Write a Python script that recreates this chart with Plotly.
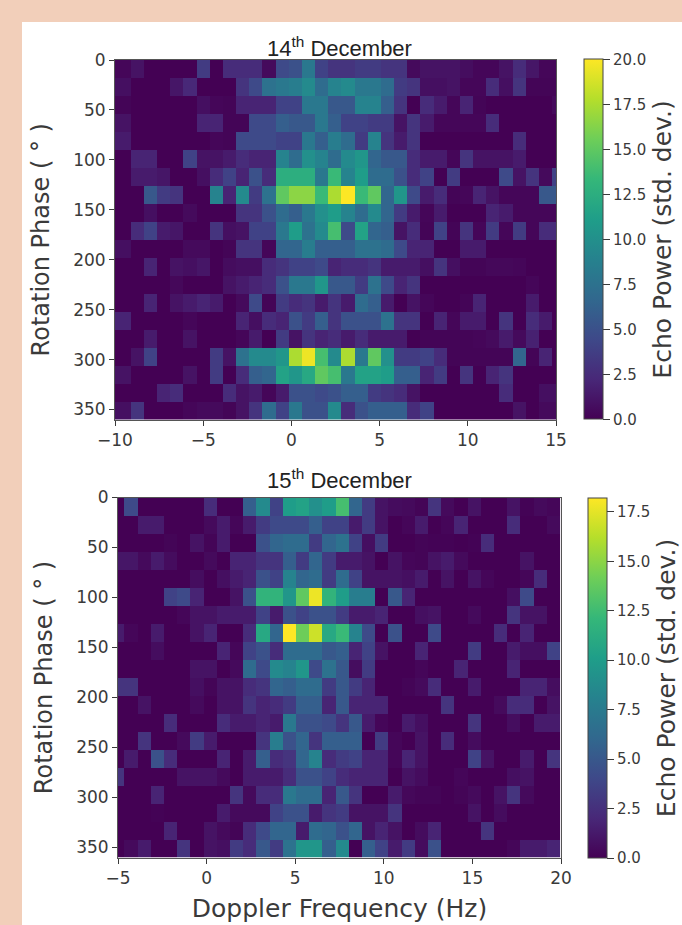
import plotly.graph_objects as go

W, H = 682, 925

# Echo power per Doppler bin (columns) and phase bin (rows)
dec14_power = [
 [0.3,0.3,1,0,0,0,0,3.5,0,2.5,2.5,2.5,0.5,4.5,5,8,4,3,3,3.5,3.5,3,3,0.5,1,1,1,0.7,0.3,0.3,1,2.5,1.2,0.3,0.3],
 [0.8,0.8,0,0,0,1.2,2.2,0,0,0,3,4.5,7.5,8,8.5,9.5,7,9,9.5,8,8,7,3.5,3,0.8,0.8,1,0.3,0.3,2.5,0.8,3,0.2,0.2,0.2],
 [0.2,0.2,0,0,0,0,0,0.8,0.3,0.2,2,2,2,4,4,8,8,5.5,5.5,9,9,6,3,0,2.5,1.5,0.3,2,0.2,0,0,0,0,0,0.5],
 [1,1,0,0,0,0,0,2,2,0.2,0.2,4.5,4.5,6,5.5,5.5,8,6,4,4,3.5,3.5,1,3,1.5,0.3,0.3,0.3,0.3,2.5,0,0,0,0,0],
 [1.5,1.5,0,0,0,0,0,0,0.3,0.2,4.5,4.5,4.5,4,4,8,6,8.5,7,3.5,9,3,1.5,3,0,0,0,0,0,0,0,2.5,0,0,0],
 [0,0,2,2,0,0,4,1,1,1.5,2.5,2,2,9,7,10,9,7,9.5,10.5,6.5,5.5,5.5,2.5,1.5,1.5,0.3,3,1,1,1,1.5,0,0,0],
 [0,0,1.5,1.5,1.2,0,0,0.8,2.5,4,2,5,2.5,12.5,12.5,12.5,8,13.5,9,11,7,7,5,2.5,4,0,3.5,0,0,0,4.5,1,3,0.5,4],
 [0,0,0,5.5,3.5,3,0,0,9,2,9.5,3.5,7.5,15,16.5,16.5,13.5,17.5,20,13.5,15,6.5,10.5,4.5,1.5,2.5,0.2,0.3,2,1,0.3,0.3,0.3,5.5,5.5],
 [0,0,0,0.8,0,0,0.5,0,0,0,3,3,5,7,6,8,10,11,9,7,9.5,6.5,3.5,1.5,0.3,1.5,0,0,0,2,1.5,0.3,0.3,0.3,0.3],
 [0,0,2.5,4,1.5,1.2,0,0,3,0.8,1,4,4,8,11,7.5,9.5,14,4.5,11.5,6.5,6,1,2.5,0.2,4,0.2,3,0.3,3.5,0.3,3.5,0.3,2.5,2.5],
 [0.8,0.8,0,0,0,0,0.5,0.5,0,0.2,3,3,0.3,6.5,6.5,8.5,6,6,6,7.5,7.5,7,4.5,2,2,0,0,1.5,1.5,0,0,0,0,0,0],
 [0,0,0,2,0,1,0.8,1.2,0,0.6,0.8,0.8,2.5,3,4,4,4.5,2,2.5,2.5,3,1.5,1.5,1.5,0.8,3,0.8,0.2,0.2,0.4,0.4,0.3,0,0,0],
 [0,0,0,0,0,0.4,0,0,0,1,1.5,2,2.5,5,8,8,10.5,5.5,5.5,3.5,7.5,4.5,2,3,0,0,0,0,0,0,0,0,0.3,0,0],
 [0,0,0,2,0,1,1.5,2,1.5,0,0.5,4.5,0.2,3.5,2.5,3,1.5,3,1.5,7,6,1.5,0,1,0.3,0,0,0.2,2,0,0,0,1.5,0,0],
 [2,2,0,0,0,0,0.3,0,0,0,2,0.8,2.5,2,5,3.5,6,3,5,5,5,7.5,3,3,0,2,0.3,1.5,1.5,0,3,0,2.5,1.5,0],
 [0,0,0,1.5,0,0,1,0,0,0,0.3,1.5,0,3.5,1,3,2,2.5,1.5,2.5,1.5,1.5,1.5,0,0.2,0.2,0.2,0.2,0.3,0.5,1.5,0.5,1.8,0,0],
 [0,0,1,4,0,0,0,0,3.5,1,7.5,9.5,9.5,10.5,17.5,19.5,14,9.5,17.5,8,15,10,3.5,3.5,4,2.5,0.2,0.2,0.2,0.2,0.2,6.5,0.2,2,0],
 [1,1,0,0,0,0,1,0,3.5,0,2.5,6,6.5,11.5,10.5,12,15,14,8,11.5,11.5,11,6,6,2,3.5,0,3,0,2,3,0,0,0,0],
 [0,0,0,0,2,2.5,0,0,0,2.5,1,1.5,0.3,1.5,5,5,4.5,5,6,6,3.5,3,2.5,1,0,0,0,0,0,0,2.5,0,0,0.8,0.8],
 [0.8,0.8,3,0,0,0,0.3,0.5,0.5,0.2,1,3,7,4,8,5,5,9.5,2.5,5,6,6,6,2.5,4,0,0,0,0,0,0,1,0,0.5,0.5],
]

# Colour-bar fractions of the 15 December panel, expressed on a 0-20 reading scale
dec15_reading = [
 [0,4.5,0,0,0,0,0,2.5,0,0,6,9.5,4,11,11.5,10,11,14,6.5,3.5,1,0.6,0.5,0.2,3,0.5,0,1,0,0,1,0.1,0.5,0.3],
 [0,0,1.5,1.5,0,0,0,0.5,1.5,0.3,1.5,3.5,4.5,4.5,4.5,6,4,4,1.5,3.5,1,0,0.3,1.5,0,0.3,2,0,0,0,2.5,0,0,0.5],
 [0,0,0,0,0.2,0,1,0.2,1.5,0,0,5,6.5,7,7,3.5,6.5,7.5,4,0.8,3.5,0,0,0.2,0.1,0.1,0,0.1,2.5,0,0,0,0,0],
 [1.2,1.2,0.5,1.5,0.6,0,0,0.5,0,2,2,3,3,6,3.5,6.5,3.5,1.5,1.5,1,0,1,0.3,0.2,1,1.5,0.5,0,0,0,0,1,0,0],
 [0,0,0,0,0,0,0.7,0,0.8,1.5,2,5,4,9,6.5,7,3.5,7,4,1,1,1,0.8,1.5,0,1,0,1,0.3,0,0,0.3,2.5,0],
 [0,0,0,0,4,4.5,2,0,0,1,5,13,13,10.5,15,19.5,13,11,8.5,8.5,0,5.5,2,0,0,0,0,0,0,0,0.8,4.5,0,0],
 [0,0,0,0,0,0.3,1,1,1.5,1.5,1.5,4,1.5,5,4,5,5,3.5,1.5,1.5,2,0,0,0.8,1,0,0,0.5,0,0,3,1,1,0],
 [1.5,0.3,0,1.5,0,0,1,2,0,0,2.5,12,6.5,20,15.5,18.5,12,13.5,9,4.5,0,5,0,0,4.5,0,0,0,0,2.5,0,2,0,0],
 [0,0,0,0.7,0,0,0,0,2,0.3,4,5,2.5,7,7,7,5.5,6,2,4,1,0,0,2,0,0,0,3.5,0,0,1.5,0.8,0.8,4],
 [0,0,0,0,0,0,1,1,0,0.5,7,4.5,9.5,9,10.5,4.5,7.5,5.5,0.7,3.5,0,0,0,0.3,0,0,2,0,0,0,2,0,0,0],
 [3,3,0,0,0,0,0.8,0.2,1,1,2.5,3,6.5,6,7,7,3.5,5.5,3.5,2,0,0,0.2,0.5,2.5,0,0,1.5,0,0,0,2,2,0.7],
 [0,0,1,0,0,0,0.5,0,1,1,3,2,2.5,3.5,6,6,2,5.5,2,2,2,0,0,0,0,3,0,0,0,0.5,2.5,2.5,0,1],
 [0,0,0,0,2.5,0,0,0,2.5,1.5,1.5,2,1.5,8,5,5,4.5,3,5.5,1.5,0.3,0,1.5,0.8,0,0,0,3,0,0,0.7,0,1.5,1.5],
 [0,0,3,0,0,0.5,3.5,1.5,0,0,0,3,8.5,5,6.5,3,6,6,6,0,3.5,0.3,0,1,0,2.5,0,0.6,0,0,0,0,0,0],
 [0,1.5,0,5,2.5,0,0,0,2,0,1.5,6,2.5,3,6.5,9,2.5,3.5,4,2,2,0.3,2,1,0,0,0,4,1,0,0,1.5,0,3],
 [3,0,0,0,0,1,1,1,0.5,0,1.5,1.5,1.5,2.5,5,5,4,2.5,2,2,2,0,1,0.6,0,0,0.3,0,0,0,0.8,1,0,0],
 [0,0,0,2,0,0,0,0,0,3,0.5,2.5,2.5,8,7,7,2,5.5,3,0,0,1.5,0.4,0.2,0.2,0,0.2,0.5,0,1,3,0.5,0,0],
 [0,0,0,0.1,0,0,0,0,1.5,0.5,0.5,0.5,4,5,5,1.5,3,3.5,1,1,1,3,0,0,0,0,0,1,0,0.6,0,0,0,0],
 [0,0,0,0,2,0,0,1,0.5,0.2,2.5,4.5,6.5,6.5,1.5,7,6.5,5,6.5,1,2,1,0,0.6,2,0,0,0,3,0,0,0,0,0],
 [0,0.5,1.5,0,0,3,0,1,0.8,3.5,2.5,5.5,3.5,7.5,10.5,10.5,6,9.5,0,6,4,1.5,3.5,0.6,5,0,0,0,0,0,0.3,1.5,1.5,2],
]

TITLE_14 = "14<sup>th</sup> December"
TITLE_15 = "15<sup>th</sup> December"
Y_LABEL = "Rotation Phase ( ° )"
X_LABEL = "Doppler Frequency (Hz)"
CB_LABEL = "Echo Power (std. dev.)"
PHASE_TICKS = [0, 50, 100, 150, 200, 250, 300, 350]
CB_TICKS = [0, 2.5, 5, 7.5, 10, 12.5, 15, 17.5, 20]
X_TICKS_14 = [-10, -5, 0, 5, 10, 15]
X_TICKS_15 = [-5, 0, 5, 10, 15, 20]
ZMAX_14 = 20
ZMAX_15 = 18.2

assert all(len(r) == 35 for r in dec14_power), [len(r) for r in dec14_power]
assert all(len(r) == 34 for r in dec15_reading), [len(r) for r in dec15_reading]
dec15_power = [[v * ZMAX_15 / 20 for v in r] for r in dec15_reading]

TEXT = "#3a3a3a"
SANS = "DejaVu Sans"

ML, MR, MT, MB = 100, 115, 40, 50
PW, PH = W - ML - MR, H - MT - MB


def fx(px):
    return (px - ML) / PW


def fy(py):
    return (H - MB - py) / PH


def colorbar(left, top, bottom, thickness=19):
    return dict(
        x=fx(left), xanchor="left", xref="paper", y=fy(top), yanchor="top", yref="paper",
        len=(bottom - top) / PH, lenmode="fraction", thickness=thickness, thicknessmode="pixels",
        tickmode="array", tickvals=CB_TICKS, ticktext=[f"{t:.1f}" for t in CB_TICKS],
        ticks="outside", ticklen=7, tickwidth=1, tickcolor=TEXT,
        tickfont=dict(family=SANS, size=15, color=TEXT),
        outlinecolor="#444", outlinewidth=1, xpad=0, ypad=0,
        title=dict(text=CB_LABEL, side="right", font=dict(family=SANS, size=25, color=TEXT)),
    )


fig = go.Figure()
fig.add_trace(go.Heatmap(z=dec14_power, x0=-10.231, dx=0.7466, y0=9, dy=18,
                         colorscale="Viridis", zmin=0, zmax=ZMAX_14, zsmooth=False,
                         colorbar=colorbar(584, 59.5, 419.5), xaxis="x", yaxis="y"))
fig.add_trace(go.Heatmap(z=dec15_power, x0=-5.017, dx=0.746, y0=9, dy=18,
                         colorscale="Viridis", zmin=0, zmax=ZMAX_15, zsmooth=False,
                         colorbar=colorbar(588, 498, 858), xaxis="x2", yaxis="y2"))

common_axis = dict(showline=True, linecolor="#555", linewidth=1, mirror=True, showgrid=False, zeroline=False,
                   ticks="outside", ticklen=5, tickwidth=1, tickcolor=TEXT,
                   tickfont=dict(family=SANS, size=17, color=TEXT))
y_title = dict(text=Y_LABEL, font=dict(family=SANS, size=24, color=TEXT), standoff=16)

fig.update_layout(
    width=W, height=H, autosize=False, margin=dict(l=ML, r=MR, t=MT, b=MB, autoexpand=False),
    paper_bgcolor="#f2cfba", plot_bgcolor="white", showlegend=False,
    xaxis=dict(domain=[fx(115), fx(556)], range=[-10, 15], tickvals=X_TICKS_14,
               ticktext=[str(t).replace("-", "−") for t in X_TICKS_14], anchor="y", **common_axis),
    yaxis=dict(domain=[fy(419.5), fy(60)], range=[360, 0], tickvals=PHASE_TICKS, anchor="x",
               title=y_title, **common_axis),
    xaxis2=dict(domain=[fx(118), fx(561)], range=[-5, 20], tickvals=X_TICKS_15,
                ticktext=[str(t).replace("-", "−") for t in X_TICKS_15], anchor="y2",
                title=dict(text=X_LABEL, font=dict(family=SANS, size=25, color=TEXT), standoff=12),
                **common_axis),
    yaxis2=dict(domain=[fy(857.5), fy(497.5)], range=[360, 0], tickvals=PHASE_TICKS, anchor="x2",
                title=y_title, **common_axis),
    shapes=[dict(type="rect", xref="paper", yref="paper", layer="below", x0=fx(22), x1=fx(682), y0=fy(925), y1=fy(22),
                 fillcolor="white", line=dict(width=0))],
    annotations=[
        dict(text=TITLE_14, x=fx(339), y=fy(47), xref="paper", yref="paper", showarrow=False,
             xanchor="center", yanchor="middle", font=dict(family="Liberation Sans", size=22, color="#222")),
        dict(text=TITLE_15, x=fx(339), y=fy(479), xref="paper", yref="paper", showarrow=False,
             xanchor="center", yanchor="middle", font=dict(family="Liberation Sans", size=22, color="#222")),
    ],
)

fig.write_html("out.html", config={"displayModeBar": False},
               post_script="document.body.style.margin='0';document.documentElement.style.overflow='hidden';")
